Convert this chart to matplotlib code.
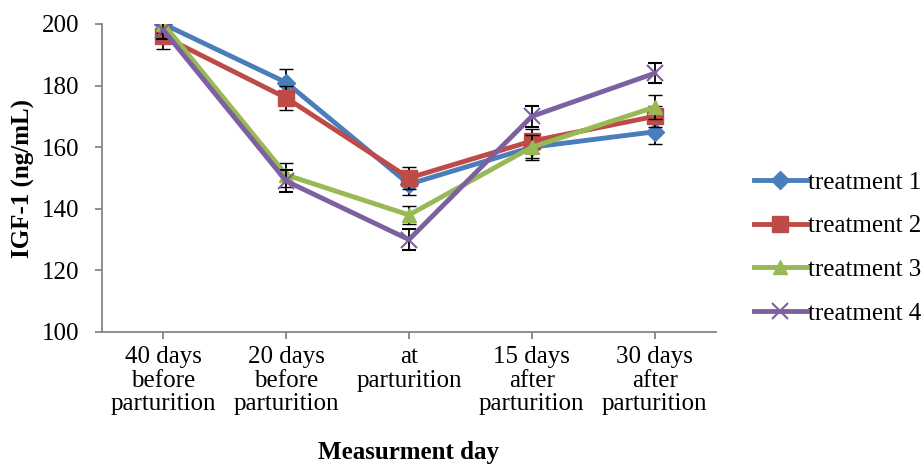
import matplotlib
matplotlib.use("Agg")
import matplotlib.pyplot as plt
from matplotlib.lines import Line2D
import numpy as np

plt.rcParams['font.family'] = ['Liberation Serif', 'DejaVu Serif']

categories = ["40 days\nbefore\nparturition", "20 days\nbefore\nparturition",
              "at\nparturition", "15 days\nafter\nparturition", "30 days\nafter\nparturition"]
t1 = [200, 181, 148, 160, 165]
t2 = [196, 176, 150, 162, 170]
t3 = [200, 151, 138, 160, 173]
t4 = [198, 149, 130, 170, 184]
e1 = [3, 4.5, 3.5, 3.5, 4]
e2 = [4, 4, 3.5, 4, 3.5]
e3 = [3, 4, 3, 4, 4]
e4 = [3, 3.5, 3.5, 3.5, 3.2]
labels = ["treatment 1", "treatment 2", "treatment 3", "treatment 4"]

colors = ["#4A7EBB", "#BE4B48", "#98B954", "#7D60A0"]
markers = ["D", "s", "^", "x"]
msizes = [9, 11, 10, 11]
FS = 18

fig = plt.figure(figsize=(9.24, 4.68), dpi=100)
ax = fig.add_axes([102/924, 1-332/468, (716-102)/924, (332-24)/468])
x = np.arange(len(categories))
handles = []
for i, (vals, errs) in enumerate(zip([t1, t2, t3, t4], [e1, e2, e3, e4])):
    kw = dict(color=colors[i], lw=3.5, marker=markers[i], ms=msizes[i],
              mew=1.5 if markers[i] == "x" else 1, mec=colors[i])
    ax.errorbar(x, vals, yerr=errs, ecolor="black", elinewidth=1.3, capsize=5,
                capthick=1.3, zorder=3 + i, **kw)
    handles.append(Line2D([], [], label=labels[i], **kw))

ax.set_xlim(-0.5, 4.5)
ax.set_ylim(100, 200)
ax.set_yticks(range(100, 201, 20))
ax.set_xticks(x)
ax.set_xticklabels(categories, fontsize=FS, linespacing=1.1)
ax.tick_params(axis='y', labelsize=FS, direction='out', length=5, color='#868686', width=1.3, pad=11)
ax.tick_params(axis='x', direction='out', length=5, color='#868686', width=1.3, pad=5)
for s in ['top', 'right']:
    ax.spines[s].set_visible(False)
for s in ['left', 'bottom']:
    ax.spines[s].set_color('#868686')
    ax.spines[s].set_linewidth(1.3)

ax.set_ylabel("IGF-1 (ng/mL)", fontsize=FS, fontweight='bold')
ax.yaxis.set_label_coords(-67/614, 0.5)
fig.text(409/924, 1-452/468, "Measurment day", fontsize=FS, fontweight='bold',
         ha='center', va='center')

leg = fig.legend(handles=handles, loc='center left', bbox_to_anchor=(754/924, 1-248/468),
                 frameon=False, fontsize=FS, handlelength=2.1, handletextpad=0.05,
                 labelspacing=0.85, borderaxespad=0, borderpad=0)

fig.savefig("out.png", dpi=100)
